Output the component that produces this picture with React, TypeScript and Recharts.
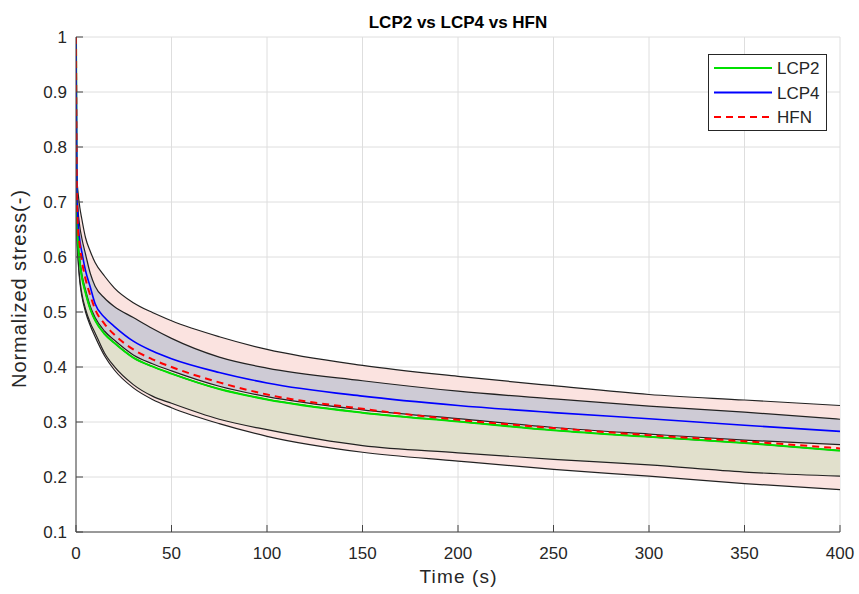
import {
  ComposedChart,
  Line,
  Area,
  XAxis,
  YAxis,
  CartesianGrid,
} from "recharts";

// time samples (s) — dense near 0 because the curves drop so steeply there
const TIMES = [0, 0.5, 1, 2, 3, 5, 7.5, 10, 15, 20, 30, 40, 50, 75, 100, 150, 200, 250, 300, 350, 400];

const LCP2 = [1.0, 0.68, 0.63, 0.59, 0.565, 0.535, 0.505, 0.485, 0.46, 0.444, 0.417, 0.401, 0.388, 0.36, 0.341, 0.317, 0.301, 0.285, 0.273, 0.262, 0.248];
const LCP4 = [1.0, 0.72, 0.67, 0.63, 0.61, 0.575, 0.545, 0.515, 0.49, 0.474, 0.447, 0.429, 0.415, 0.39, 0.371, 0.347, 0.33, 0.317, 0.306, 0.294, 0.283];
const HFN = [1.0, 0.7, 0.655, 0.62, 0.595, 0.56, 0.53, 0.505, 0.478, 0.459, 0.432, 0.414, 0.4, 0.372, 0.35, 0.324, 0.304, 0.289, 0.276, 0.265, 0.252];

// shaded bands (lower / upper edges)
const HFN_LO = [0.78, 0.64, 0.6, 0.555, 0.53, 0.5, 0.475, 0.455, 0.42, 0.395, 0.362, 0.341, 0.326, 0.297, 0.274, 0.245, 0.229, 0.214, 0.2015, 0.188, 0.177];
const HFN_HI = [0.78, 0.74, 0.72, 0.69, 0.67, 0.635, 0.61, 0.59, 0.565, 0.544, 0.517, 0.499, 0.484, 0.455, 0.432, 0.403, 0.383, 0.366, 0.35, 0.34, 0.33];
const LCP4_LO = [0.78, 0.685, 0.635, 0.595, 0.57, 0.54, 0.51, 0.49, 0.465, 0.449, 0.422, 0.406, 0.393, 0.365, 0.346, 0.322, 0.306, 0.29, 0.278, 0.267, 0.259];
const LCP4_HI = [0.78, 0.73, 0.69, 0.655, 0.635, 0.605, 0.57, 0.547, 0.525, 0.51, 0.49, 0.47, 0.452, 0.418, 0.398, 0.375, 0.356, 0.342, 0.329, 0.318, 0.305];
const LCP2_LO = [0.78, 0.645, 0.605, 0.56, 0.535, 0.505, 0.48, 0.462, 0.425, 0.401, 0.368, 0.347, 0.334, 0.305, 0.286, 0.257, 0.244, 0.232, 0.222, 0.209, 0.2015];
const LCP2_HI = [0.78, 0.68, 0.63, 0.59, 0.565, 0.535, 0.505, 0.485, 0.46, 0.444, 0.417, 0.401, 0.388, 0.36, 0.341, 0.317, 0.301, 0.285, 0.273, 0.262, 0.248];

const X_TICKS = [0, 50, 100, 150, 200, 250, 300, 350, 400];
const Y_TICKS = [0.1, 0.2, 0.3, 0.4, 0.5, 0.6, 0.7, 0.8, 0.9, 1];

const FONT = "'Liberation Sans', Arial, Helvetica, sans-serif";
const AXIS = "#444";
const TXT = "#262626";
const EDGE = "#222";

const data = TIMES.map((t, i) => ({
  t,
  lcp2: LCP2[i],
  lcp4: LCP4[i],
  hfn: HFN[i],
  hfnBand: [HFN_LO[i], HFN_HI[i]],
  lcp4Band: [LCP4_LO[i], LCP4_HI[i]],
  lcp2Band: [LCP2_LO[i], LCP2_HI[i]],
}));

const fmt = (v: number) => String(Number(v.toFixed(1)));

// MATLAB style: ticks point inward, labels outside
function LeftTick({ x, y, payload }: any) {
  return (
    <g>
      <line x1={x} x2={x + 7} y1={y} y2={y} stroke={AXIS} />
      <text x={x - 9} y={y + 6} textAnchor="end" fontSize={17} fontFamily={FONT} fill={TXT}>
        {fmt(payload.value)}
      </text>
    </g>
  );
}

function BottomTick({ x, y, payload }: any) {
  return (
    <g>
      <line x1={x} x2={x} y1={y} y2={y - 7} stroke={AXIS} />
      <text x={x} y={y + 27} textAnchor="middle" fontSize={17} fontFamily={FONT} fill={TXT}>
        {payload.value}
      </text>
    </g>
  );
}

function RightTick({ x, y }: any) {
  return <line x1={x} x2={x - 7} y1={y} y2={y} stroke={AXIS} />;
}

function TopTick({ x, y }: any) {
  return <line x1={x} x2={x} y1={y} y2={y + 7} stroke={AXIS} />;
}

const LEGEND = [
  { name: "LCP2", color: "#00e000", dash: undefined },
  { name: "LCP4", color: "#0000ff", dash: undefined },
  { name: "HFN", color: "#ff0000", dash: "7 5" },
];

export default function App() {
  return (
    <div style={{ position: "relative", width: 859, height: 594, background: "#fff" }}>
      <style>{"body{margin:0}"}</style>
      <ComposedChart
        width={859}
        height={594}
        data={data}
        margin={{ top: 37, right: 19, left: 0, bottom: 0 }}
      >
        <CartesianGrid stroke="#dedede" />
        <XAxis
          dataKey="t"
          type="number"
          domain={[0, 400]}
          ticks={X_TICKS}
          allowDataOverflow
          height={62}
          tickSize={0}
          tickMargin={0}
          tickLine={false}
          tick={<BottomTick />}
          stroke={AXIS}
        />
        <XAxis
          xAxisId="top"
          dataKey="t"
          type="number"
          orientation="top"
          domain={[0, 400]}
          ticks={X_TICKS}
          allowDataOverflow
          height={0}
          tickSize={0}
          tickMargin={0}
          tickLine={false}
          tick={<TopTick />}
          stroke={AXIS}
        />
        <YAxis
          type="number"
          domain={[0.1, 1]}
          ticks={Y_TICKS}
          allowDataOverflow
          width={76}
          tickSize={0}
          tickMargin={0}
          tickLine={false}
          tick={<LeftTick />}
          stroke={AXIS}
        />
        <YAxis
          yAxisId="right"
          type="number"
          orientation="right"
          domain={[0.1, 1]}
          ticks={Y_TICKS}
          allowDataOverflow
          width={0}
          tickSize={0}
          tickMargin={0}
          tickLine={false}
          tick={<RightTick />}
          stroke={AXIS}
        />
        <Area
          type="monotone"
          dataKey="hfnBand"
          fill="#fbe3e0"
          fillOpacity={1}
          stroke={EDGE}
          strokeWidth={1.2}
          isAnimationActive={false}
        />
        <Area
          type="monotone"
          dataKey="lcp4Band"
          fill="#cecbd5"
          fillOpacity={1}
          stroke={EDGE}
          strokeWidth={1.2}
          isAnimationActive={false}
        />
        <Area
          type="monotone"
          dataKey="lcp2Band"
          fill="#e1e0cc"
          fillOpacity={1}
          stroke={EDGE}
          strokeWidth={1.2}
          isAnimationActive={false}
        />
        <Line type="monotone" dataKey="lcp2" stroke="#00e000" strokeWidth={2} dot={false} isAnimationActive={false} />
        <Line type="monotone" dataKey="lcp4" stroke="#0000ff" strokeWidth={1.6} dot={false} isAnimationActive={false} />
        <Line
          type="monotone"
          dataKey="hfn"
          stroke="#ff0000"
          strokeWidth={2}
          strokeDasharray="7 5"
          dot={false}
          isAnimationActive={false}
        />
      </ComposedChart>

      {/* title, axis labels and legend box */}
      <svg
        width={859}
        height={594}
        style={{ position: "absolute", left: 0, top: 0, pointerEvents: "none" }}
      >
        <text x={458} y={28} textAnchor="middle" fontSize={17} fontWeight="bold" fontFamily={FONT} fill="#000">
          LCP2 vs LCP4 vs HFN
        </text>
        <text
          x={458}
          y={583}
          textAnchor="middle"
          fontSize={19}
          fontFamily={FONT}
          fill={TXT}
          textLength={77}
          lengthAdjust="spacing"
        >
          Time (s)
        </text>
        <text
          transform="translate(26 289) rotate(-90)"
          textAnchor="middle"
          fontSize={20}
          fontFamily={FONT}
          fill={TXT}
          textLength={198}
          lengthAdjust="spacing"
        >
          Normalized stress(-)
        </text>
        <rect x={708.5} y={54.5} width={118} height={76} fill="#fff" stroke="#262626" />
        {LEGEND.map((it, i) => {
          const cy = 68 + i * 24.5;
          return (
            <g key={it.name}>
              <line
                x1={714}
                x2={772}
                y1={cy}
                y2={cy}
                stroke={it.color}
                strokeWidth={2}
                strokeDasharray={it.dash}
              />
              <text x={777} y={cy + 6} fontSize={17} fontFamily={FONT} fill={TXT}>
                {it.name}
              </text>
            </g>
          );
        })}
      </svg>
    </div>
  );
}
